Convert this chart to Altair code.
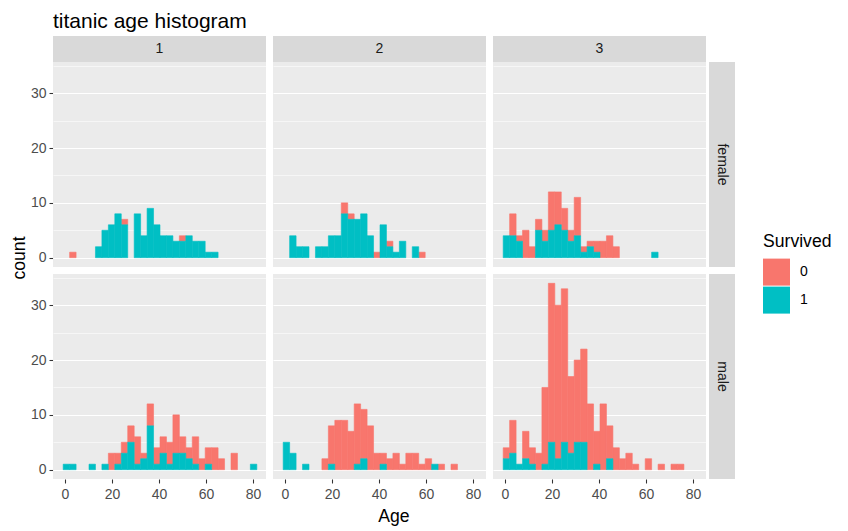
import altair as alt
import pandas as pd

# histogram bin edges (ggplot default 30 bins over Age 0.42..80)
AGE_BREAKS = [-0.952, 1.792, 4.536, 7.280, 10.024, 12.768, 15.512, 18.256, 21.000,
              23.744, 26.488, 29.232, 31.976, 34.720, 37.464, 40.208, 42.952, 45.696,
              48.440, 51.184, 53.928, 56.672, 59.416, 62.160, 64.904, 67.648, 70.392,
              73.136, 75.880, 78.624, 81.368]

CLASSES = ["1", "2", "3"]
SEXES = ["female", "male"]
SURVIVED = ["0", "1"]
COLORS = ["#F8766D", "#00BFC4"]

# counts per bin (30 bins), Survived = 0 / 1
F1_DIED = [0,1,0,0,0,0,0,0,0,1,0,0,0,0,0,0,0,0,1,0,0,0,0,0,0,0,0,0,0,0]
F1_SURV = [0,0,0,0,0,2,5,6,8,6,0,8,4,9,6,4,4,3,3,4,3,3,1,1,0,0,0,0,0,0]
F2_DIED = [0,0,0,0,0,0,0,0,0,2,1,0,0,0,1,0,1,0,0,0,0,1,0,0,0,0,0,0,0,0]
F2_SURV = [0,4,2,2,0,2,2,4,4,8,7,7,8,4,0,6,2,1,3,0,2,0,0,0,0,0,0,0,0,0]
F3_DIED = [0,4,1,5,2,2,2,7,6,4,2,7,1,1,2,3,4,2,0,0,0,0,0,0,0,0,0,0,0,0]
F3_SURV = [4,4,3,0,0,5,3,5,6,5,3,4,1,2,1,0,0,0,0,0,0,0,0,1,0,0,0,0,0,0]
M1_DIED = [0,0,0,0,0,0,0,3,2,2,3,5,1,4,3,3,4,7,3,2,5,2,3,4,2,0,3,0,0,0]
M1_SURV = [1,1,0,0,1,0,1,0,1,3,5,1,2,8,1,3,1,3,3,2,1,0,1,0,0,0,0,0,0,1]
M2_DIED = [0,0,0,0,0,0,2,7,9,9,7,11,9,8,3,2,2,3,1,3,3,1,2,0,1,0,1,0,0,0]
M2_SURV = [5,3,0,1,0,0,0,1,0,0,0,1,2,0,0,1,0,0,0,0,0,0,0,1,0,0,0,0,0,0]
M3_DIED = [2,6,0,5,3,3,14,29,28,28,14,15,17,12,6,12,6,4,2,3,1,0,2,0,1,0,1,1,0,0]
M3_SURV = [2,3,1,2,1,0,1,5,2,5,3,5,5,0,1,0,2,0,0,0,0,0,0,0,0,0,0,0,0,0]

SERIES = {
    ("1", "female"): (F1_DIED, F1_SURV),
    ("2", "female"): (F2_DIED, F2_SURV),
    ("3", "female"): (F3_DIED, F3_SURV),
    ("1", "male"): (M1_DIED, M1_SURV),
    ("2", "male"): (M2_DIED, M2_SURV),
    ("3", "male"): (M3_DIED, M3_SURV),
}

rows = []
for (pc, sex), pair in SERIES.items():
    for surv, counts in zip(SURVIVED, pair):
        for k, c in enumerate(counts):
            if c > 0:
                rows.append({"Pclass": pc, "Sex": sex, "Survived": surv,
                             "lo": AGE_BREAKS[k], "hi": AGE_BREAKS[k + 1], "count": c})
df = pd.DataFrame(rows)

W, H = 213, 205
STRIP = 26
FONT = "Liberation Sans"

x_axis = alt.Axis(
    values=[0, 10, 20, 30, 40, 50, 60, 70, 80],
    labelExpr="datum.value % 20 == 0 ? datum.label : ''",
    tickOpacity={"condition": {"test": "datum.value % 20 == 0", "value": 1}, "value": 0},
    gridWidth={"condition": {"test": "datum.value % 20 == 0", "value": 1.1}, "value": 0.55},
    labelPadding=4,
    title=None,
)
y_axis = alt.Axis(
    values=[0, 5, 10, 15, 20, 25, 30, 35],
    labelExpr="datum.value % 10 == 0 ? datum.label : ''",
    tickOpacity={"condition": {"test": "datum.value % 10 == 0", "value": 1}, "value": 0},
    gridWidth={"condition": {"test": "datum.value % 10 == 0", "value": 1.1}, "value": 0.55},
    labelPadding=3,
    title=None,
)

bars = alt.Chart().mark_bar(binSpacing=0, strokeWidth=0.6).encode(
    x=alt.X("lo:Q", bin="binned",
            scale=alt.Scale(domain=[-5.068, 85.484], nice=False, zero=False),
            axis=x_axis),
    x2="hi:Q",
    y=alt.Y("count:Q", stack="zero",
            scale=alt.Scale(domain=[-1.7, 35.7], nice=False, zero=False),
            axis=y_axis),
    color=alt.Color("Survived:N",
                    scale=alt.Scale(domain=SURVIVED, range=COLORS),
                    legend=alt.Legend(title="Survived", orient="none",
                                      legendX=710, legendY=171,
                                      symbolType="square", symbolSize=729,
                                      symbolStrokeWidth=0, symbolOpacity=1,
                                      titleFontSize=17.6, titleFontWeight="normal",
                                      titleColor="black", titleFont=FONT,
                                      labelFontSize=14, labelColor="black", labelFont=FONT,
                                      titlePadding=8, rowPadding=1, labelOffset=10,
                                      padding=0)),
    stroke=alt.Stroke("Survived:N", scale=alt.Scale(domain=SURVIVED, range=COLORS),
                      legend=None),
    order=alt.Order("Survived:N", sort="descending"),
)

top_base = alt.Chart().transform_filter("datum.Sex == 'female'").transform_aggregate(
    n="count()", groupby=["Pclass", "Sex"])
top_rect = top_base.mark_rect(color="#D9D9D9").encode(
    x=alt.value(0), x2=alt.value(W), y=alt.value(-STRIP), y2=alt.value(0))
top_text = top_base.mark_text(font=FONT, fontSize=14, color="#1A1A1A",
                              baseline="middle", align="center").encode(
    x=alt.value(W / 2), y=alt.value(-STRIP / 2), text="Pclass:N")

right_base = alt.Chart().transform_filter("datum.Pclass == '3'").transform_aggregate(
    n="count()", groupby=["Pclass", "Sex"])
right_rect = right_base.mark_rect(color="#D9D9D9").encode(
    x=alt.value(W + 3), x2=alt.value(W + 3 + STRIP), y=alt.value(0), y2=alt.value(H))
right_text = right_base.mark_text(font=FONT, fontSize=14, color="#1A1A1A", angle=90,
                                  baseline="middle", align="center").encode(
    x=alt.value(W + 3 + STRIP / 2), y=alt.value(H / 2), text="Sex:N")

chart = alt.layer(bars, top_rect, top_text, right_rect, right_text).properties(
    width=W, height=H
).facet(
    row=alt.Row("Sex:N", sort=SEXES,
                header=alt.Header(labels=False, title="count", titleOrient="left",
                                  titleFont=FONT, titleFontSize=17.6,
                                  titleFontWeight="normal", titleColor="black",
                                  titlePadding=-9)),
    column=alt.Column("Pclass:N", sort=CLASSES,
                      header=alt.Header(labels=False, title="Age", titleOrient="bottom",
                                        titleFont=FONT, titleFontSize=17.6,
                                        titleFontWeight="normal", titleColor="black",
                                        titlePadding=-3)),
    data=df,
    spacing=7,
    bounds="flush",
).properties(
    title=alt.TitleParams("titanic age histogram", anchor="start", frame="group",
                          fontSize=21, font=FONT, fontWeight="normal", color="black",
                          offset=4),
    padding={"left": 3, "top": 3, "right": 5, "bottom": 5},
).configure_view(
    fill="#EBEBEB", stroke=None
).configure_axis(
    domain=False, tickColor="#333333", tickWidth=1.07, tickSize=4,
    labelColor="#4D4D4D", labelFontSize=14, labelFont=FONT,
    gridColor="white",
)

chart.save("out.html", embed_options={"renderer": "svg", "actions": False})
